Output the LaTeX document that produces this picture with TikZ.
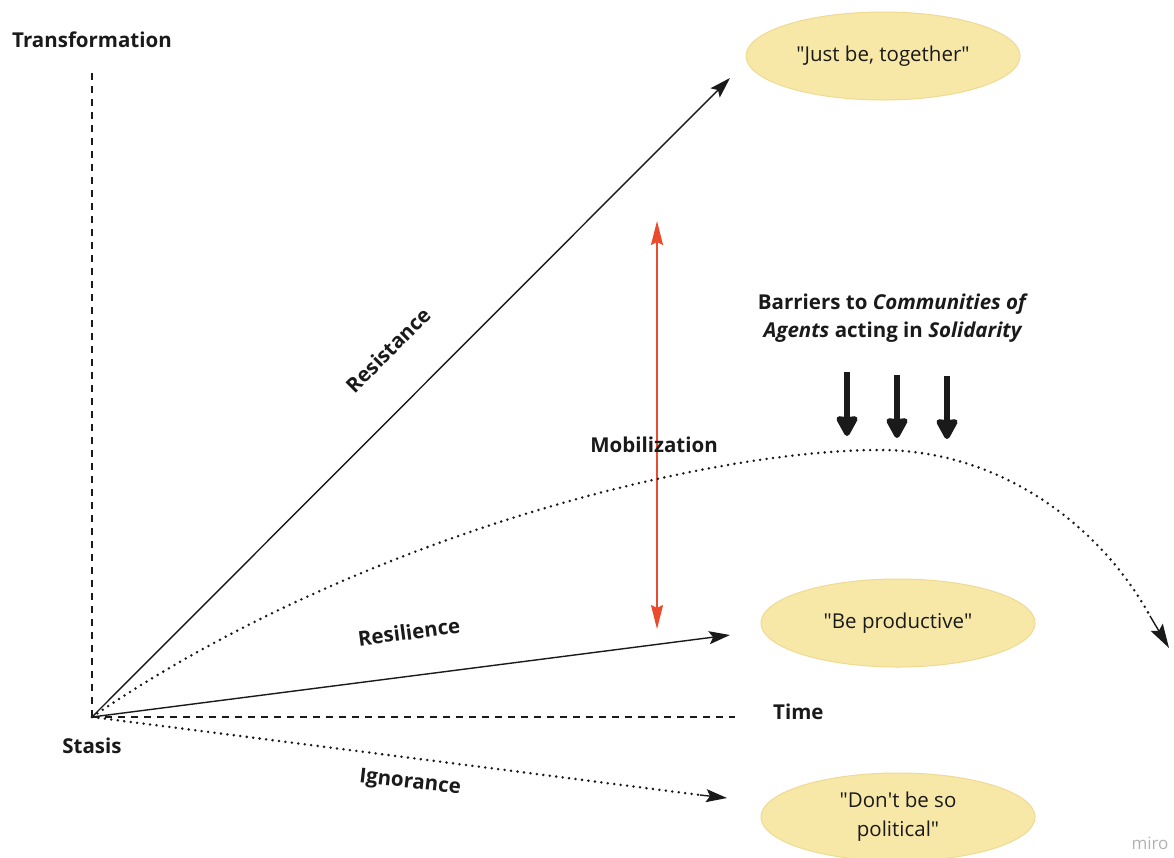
\documentclass[tikz,border=0pt]{standalone}
\usepackage{fontspec}
\setmainfont{Open Sans}
\usetikzlibrary{arrows.meta,shapes.geometric}
\definecolor{pale}{HTML}{F8E8A8}
\definecolor{paleline}{HTML}{EEDA92}
\definecolor{mobred}{HTML}{EB4A2D}
\definecolor{ink}{HTML}{1A1A1A}
\newcommand{\dq}{\textquotedbl}
\tikzset{
  lbl/.style={font=\bfseries\fontsize{20.5}{24}\selectfont, text=ink, inner sep=0pt},
  wish/.style={ellipse, fill=pale, draw=paleline, line width=1pt,
    minimum width=274pt, minimum height=88pt, inner sep=0pt, align=center,
    font=\fontsize{20.5}{29}\selectfont, text=ink},
  axis/.style={line width=1.2pt, dash pattern=on 7pt off 6pt, ink},
  tip/.style={-{Stealth[length=21pt,width=13pt,inset=4pt]}},
  path/.style={line width=1.4pt, ink, tip},
  dots/.style={line width=2.8pt, ink, line cap=round, dash pattern=on 0pt off 6.5pt},
  barrier/.style={line width=5.5pt, ink, -{Stealth[length=23pt,width=24pt,inset=1pt,round]}},
}
\begin{document}
\begin{tikzpicture}[x=1pt,y=-1pt]
\useasboundingbox (0,0) rectangle (1174,857);
\clip (0,0) rectangle (1174,857);
\fill[white] (0,0) rectangle (1174,857);

% origin and axes
\coordinate (O) at (92,717);
\coordinate (ytop) at (92,72);
\coordinate (xend) at (735,717);
\draw[axis] (O) -- (ytop);
\draw[axis] (O) -- (xend);
\node[lbl, anchor=west] (transf) at (12,40) {Transformation};
\node[lbl] (stasis) at (92,746) {Stasis};
\node[lbl, anchor=west] (time) at (773,712) {Time};

% outcome ellipses
\node[wish] (together) at (883,56) {\dq Just be, together\dq};
\node[wish] (productive) at (898,623) {\dq Be productive\dq};
\node[wish] (political) at (898,817) {\dq Don\textquotesingle t be so\\political\dq};

% trajectories
\coordinate (rtip) at (730,78);
\coordinate (ltip) at (730,635);
\coordinate (itip) at (727,798);
\coordinate (inear) at (700,795);
\draw[path] (O) -- (rtip);
\draw[path] (O) -- (ltip);
\draw[dots] (O) -- (inear);
\draw[line width=1.4pt, ink, tip] (inear) -- (itip);
\node[lbl, rotate=45] (resist) at (388,350) {Resistance};
\node[lbl, rotate=7.5] (resil) at (409,632) {Resilience};
\node[lbl, rotate=-6.5] (ignor) at (410,783) {Ignorance};

% mobilization range
\coordinate (mtop) at (657,221);
\coordinate (mbot) at (657,629);
\draw[mobred, line width=2pt, {Stealth[length=24pt,width=12pt,inset=3pt]}-{Stealth[length=24pt,width=12pt,inset=3pt]}] (mtop) -- (mbot);
\node[lbl] (mobil) at (654,445) {Mobilization};

% dotted solidarity curve
\coordinate (peak) at (880,450);
\coordinate (cnear) at (1150,616);
\coordinate (ctip) at (1169,648);
\draw[dots] (O) .. controls (350,540) and (700,450) .. (peak)
  .. controls (1000,450) and (1100,525) .. (cnear);
\draw[line width=1.4pt, ink, -{Stealth[length=24pt,width=14pt,inset=4pt]}] (cnear) -- (ctip);

% barriers
\node[lbl, align=center, font=\bfseries\fontsize{20.5}{28.5}\selectfont] (barriers) at (893,318)
  {Barriers to \textit{Communities of}\\\textit{Agents} acting in \textit{Solidarity}};
\coordinate (b1s) at (847,372); \coordinate (b1e) at (847,436);
\coordinate (b2s) at (897,375); \coordinate (b2e) at (897,438);
\coordinate (b3s) at (947,376); \coordinate (b3e) at (947,439);
\draw[barrier] (b1s) -- (b1e);
\draw[barrier] (b2s) -- (b2e);
\draw[barrier] (b3s) -- (b3e);

% watermark
\node[font=\fontsize{17}{20}\selectfont, text=black!30, inner sep=0pt] (miro) at (1150,843) {miro};
\end{tikzpicture}
\end{document}
